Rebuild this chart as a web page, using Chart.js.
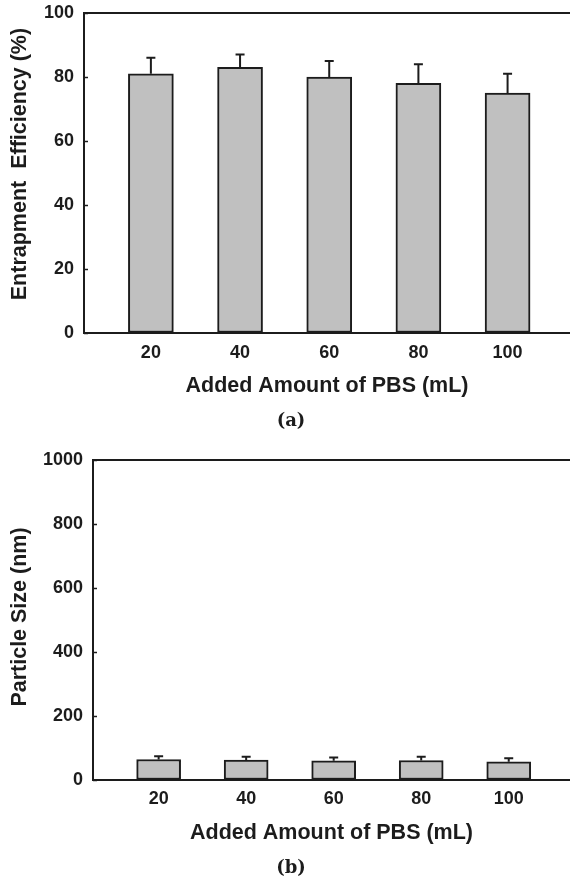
<!DOCTYPE html>
<html>
<head>
<meta charset="utf-8">
<title>PBS volume: entrapment efficiency and particle size</title>
<script src="https://cdn.jsdelivr.net/npm/chart.js@4.4.1/dist/chart.umd.min.js"></script>
<style>
  html, body { margin: 0; padding: 0; background: #fff; }
  canvas { display: block; }
</style>
</head>
<body>
<canvas id="chart-a" width="570" height="440"></canvas>
<canvas id="chart-b" width="570" height="441"></canvas>
<script>
// Added PBS volume (mL) and the measured means / standard deviations
const pbsVolumes = [20, 40, 60, 80, 100]
const entrapment = [81, 83, 80, 78, 75]
const entrapmentSd = [5, 4, 5, 6, 6]
const particleSize = [64, 62, 60, 61, 57]
const particleSizeSd = [10, 11, 10, 12, 11]

const entrapmentTicks = [0, 20, 40, 60, 80, 100]
const sizeTicks = [0, 200, 400, 600, 800, 1000]

const INK = '#1c1c1c'
const SANS = '"Liberation Sans", Arial, sans-serif'

// upward-only error bars with a small cap
const errorBars = {
  id: 'errorBars',
  afterDatasetsDraw(chart) {
    const { ctx } = chart
    const y = chart.scales.y
    chart.data.datasets.forEach((ds, di) => {
      chart.getDatasetMeta(di).data.forEach((bar, i) => {
        const top = y.getPixelForValue(ds.data[i].y + ds.errors[i])
        ctx.save()
        ctx.strokeStyle = INK
        ctx.lineWidth = 2
        ctx.beginPath()
        ctx.moveTo(bar.x, bar.y)
        ctx.lineTo(bar.x, top)
        ctx.moveTo(bar.x - 4.5, top)
        ctx.lineTo(bar.x + 4.5, top)
        ctx.stroke()
        ctx.restore()
      })
    })
  },
}

// top frame line and inward y tick marks
const frame = {
  id: 'frame',
  afterDraw(chart) {
    const { ctx, chartArea: a } = chart
    const y = chart.scales.y
    ctx.save()
    ctx.strokeStyle = INK
    ctx.lineWidth = 2
    ctx.beginPath()
    ctx.moveTo(a.left - 1, a.top)
    ctx.lineTo(a.right, a.top)
    ctx.stroke()
    ctx.lineWidth = 1.5
    ctx.beginPath()
    y.ticks.forEach(t => {
      const py = Math.round(y.getPixelForValue(t.value)) + 0.5
      ctx.moveTo(a.left, py)
      ctx.lineTo(a.left + 4, py)
    })
    ctx.stroke()
    ctx.restore()
  },
}

function panel(id, cfg) {
  const ctx = document.getElementById(id)
  return new Chart(ctx, {
    type: 'bar',
    data: {
      datasets: [{
        data: pbsVolumes.map((v, i) => ({ x: v, y: cfg.values[i] })),
        errors: cfg.errors,
        backgroundColor: '#c0c0c0',
        borderColor: INK,
        borderWidth: 2,
        borderSkipped: false,
        barThickness: cfg.barWidth,
      }],
    },
    options: {
      responsive: false,
      animation: false,
      layout: { padding: { top: cfg.top, left: 12, right: 0, bottom: cfg.bottom } },
      plugins: {
        legend: { display: false },
        tooltip: { enabled: false },
        title: {
          display: true,
          position: 'bottom',
          text: cfg.label,
          color: INK,
          padding: 0,
          font: { family: '"DejaVu Serif", serif', size: 18, weight: 'bold', lineHeight: 1.2 },
        },
      },
      scales: {
        x: {
          type: 'linear',
          min: 5,
          max: 114,
          offset: false,
          afterBuildTicks: s => { s.ticks = pbsVolumes.map(v => ({ value: v })) },
          afterFit: s => { s.height = 77.2 },
          grid: { display: false, drawTicks: false },
          border: { color: INK, width: 2 },
          ticks: { color: INK, padding: cfg.tickPad, font: { family: SANS, size: 18, weight: 'bold' } },
          title: {
            display: true,
            text: 'Added Amount of PBS (mL)',
            color: INK,
            padding: { top: 0, bottom: 11.6 },
            font: { family: SANS, size: 21.5, weight: 'bold' },
          },
        },
        y: {
          min: 0,
          max: cfg.ticks[cfg.ticks.length - 1],
          afterBuildTicks: s => { s.ticks = cfg.ticks.map(v => ({ value: v })) },
          afterFit: s => {
            s.width = cfg.axisWidth
            s.paddingTop = 0
            s.paddingBottom = 0
          },
          grid: { drawOnChartArea: false, drawTicks: false },
          border: { color: INK, width: 2 },
          ticks: {
            color: INK,
            padding: 10,
            font: { family: SANS, size: 18, weight: 'bold' },
            callback: v => String(v),
          },
          title: {
            display: true,
            // leading spaces nudge the rotated title toward the top
            text: cfg.yTitle,
            color: INK,
            padding: { top: -4.8, bottom: 0 },
            font: { family: SANS, size: 21.5, weight: 'bold' },
          },
        },
      },
    },
    plugins: [errorBars, frame],
  })
}

panel('chart-a', {
  values: entrapment,
  errors: entrapmentSd,
  ticks: entrapmentTicks,
  yTitle: '   Entrapment  Efficiency (%)',
  label: '(a)',
  axisWidth: 72,
  top: 13,
  bottom: 8.2,
  tickPad: 9.2,
  barWidth: 45,
})

panel('chart-b', {
  values: particleSize,
  errors: particleSizeSd,
  ticks: sizeTicks,
  yTitle: ' Particle Size (nm)',
  label: '(b)',
  axisWidth: 81,
  top: 20,
  bottom: 2.2,
  tickPad: 8.2,
  barWidth: 44,
})
</script>
</body>
</html>
